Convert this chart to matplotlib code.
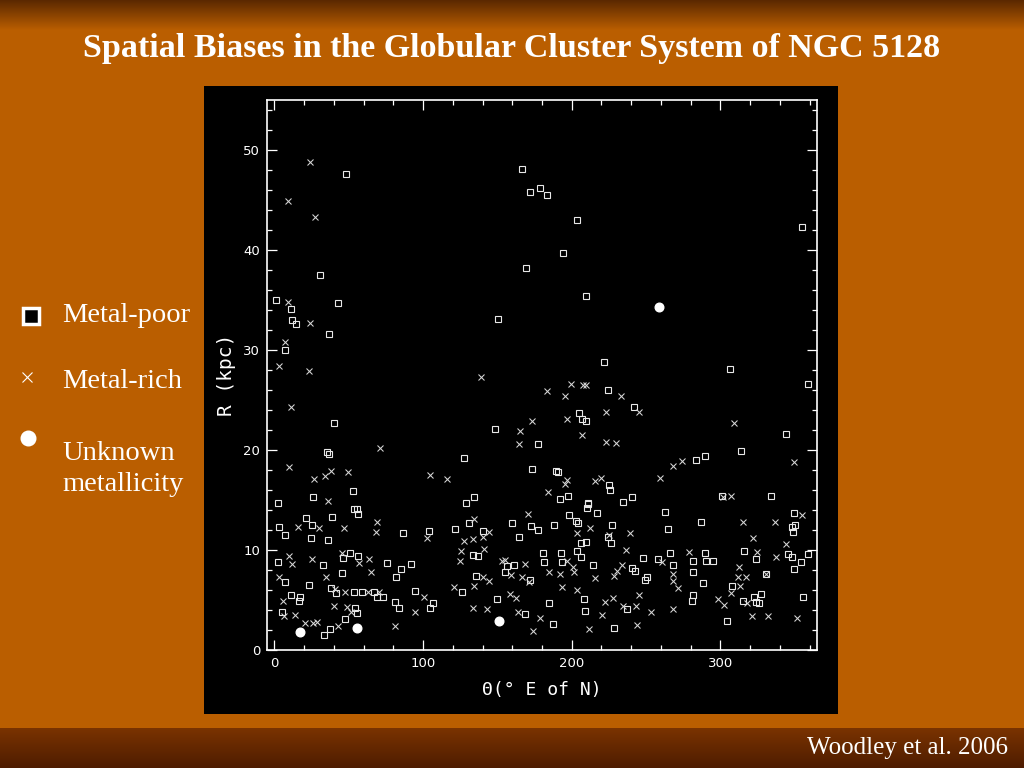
import numpy as np
import matplotlib
matplotlib.use("Agg")
import matplotlib.pyplot as plt
from matplotlib.ticker import MultipleLocator
from matplotlib.colors import LinearSegmentedColormap
from matplotlib.patches import Rectangle
from matplotlib.lines import Line2D

# ---------------- data ----------------
title = "Spatial Biases in the Globular Cluster System of NGC 5128"
x_label = "Θ(° E of N)"
y_label = "R (kpc)"
legend_labels = ["Metal-poor", "Metal-rich", "Unknown\nmetallicity"]
credit = "Woodley et al. 2006"

x_ticks = [0, 100, 200, 300]
y_ticks = [0, 10, 20, 30, 40, 50]

metal_poor_theta = [
    48.2, 30.5, 1.1, 42.8, 11.0, 11.9, 14.4, 36.8, 166.8, 172.2, 178.9, 169.5, 150.6, 183.6, 203.8, 194.4, 209.6, 355.1,
    7.4, 39.9, 35.4, 36.8, 52.7, 26.2, 2.5,
    221.9, 224.6, 241.9, 205.1, 207.1, 209.6, 148.2, 177.6, 127.4, 173.1, 189.5, 190.6, 225.1, 226.0, 192.1, 197.3,
    134.3, 128.7, 210.8, 234.7, 240.3,
    306.5, 359.1, 343.9, 313.6, 283.6, 289.8, 300.9, 333.8,
    53.4, 55.6, 56.3, 20.9, 39.0, 3.4, 25.4, 7.2, 24.7, 36.3, 86.5, 2.5, 32.8, 51.1, 46.0, 56.3, 76.0, 85.4, 45.5,
    81.6, 7.4, 23.1,
    130.9, 159.9, 172.4, 177.1, 104.2, 121.5, 140.1, 164.6, 133.6, 137.2, 156.3, 161.4, 92.1, 155.3, 172.0, 135.4,
    211.0, 210.5, 217.2, 198.0, 263.0, 187.9, 202.7, 204.2, 227.1, 264.8, 224.4, 226.6, 206.0, 209.8, 180.7, 193.0,
    203.4, 206.5, 181.4, 193.5, 248.0, 258.0, 265.9, 214.3, 268.3, 240.8, 242.4, 249.1, 250.8,
    349.7, 287.0, 348.2, 350.2, 348.6, 316.1, 323.9, 289.6, 281.8, 290.3, 295.2, 345.7, 348.2, 359.1, 354.4, 349.7,
    281.4, 330.7, 288.1,
    38.1, 41.5, 53.4, 59.0, 66.8, 69.1, 72.9, 11.2, 17.5, 16.4, 5.2, 54.5, 55.6, 81.4, 83.7, 94.8, 106.5, 104.9,
    47.7, 37.7, 33.6,
    126.0, 150.0, 184.7, 208.3, 209.1, 237.0, 168.6, 187.6, 228.2,
    308.0, 281.8, 280.9, 315.4, 322.8, 327.1, 324.0, 326.0, 355.5, 304.4,
]
metal_poor_R = [
    47.6, 37.5, 35.0, 34.7, 34.1, 33.0, 32.6, 31.6, 48.1, 45.8, 46.2, 38.2, 33.1, 45.5, 43.0, 39.7, 35.4, 42.3,
    30.0, 22.7, 19.8, 19.6, 15.9, 15.3, 14.7,
    28.8, 26.0, 24.3, 23.7, 23.1, 22.9, 22.1, 20.6, 19.2, 18.1, 17.9, 17.8, 16.5, 16.0, 15.1, 15.4,
    15.3, 14.7, 14.7, 14.8, 15.3,
    28.1, 26.6, 21.6, 19.9, 19.0, 19.4, 15.4, 15.4,
    14.1, 14.1, 13.6, 13.2, 13.3, 12.3, 12.5, 11.5, 11.2, 11.0, 11.7, 8.8, 8.5, 9.7, 9.2, 9.4, 8.7, 8.1, 7.7,
    7.3, 6.8, 6.5,
    12.7, 12.7, 12.4, 12.0, 11.9, 12.1, 11.9, 11.3, 9.5, 9.4, 8.4, 8.5, 8.6, 7.8, 7.0, 7.4,
    14.6, 14.2, 13.7, 13.5, 13.8, 12.5, 12.9, 12.7, 12.5, 12.1, 11.3, 10.7, 10.7, 10.8, 9.7, 9.7,
    9.9, 9.3, 8.8, 8.8, 9.2, 9.1, 9.7, 8.5, 8.5, 8.2, 7.9, 7.0, 7.3,
    13.7, 12.8, 12.3, 12.5, 11.8, 9.9, 9.1, 9.7, 8.9, 8.9, 8.9, 9.6, 9.3, 9.6, 8.8, 8.1,
    7.8, 7.6, 6.7,
    6.2, 5.7, 5.8, 5.8, 5.8, 5.3, 5.3, 5.5, 5.3, 4.9, 3.8, 4.2, 3.7, 4.8, 4.2, 5.9, 4.7, 4.2,
    3.1, 2.1, 1.5,
    5.8, 5.1, 4.7, 5.1, 3.9, 4.1, 3.6, 2.6, 2.2,
    6.4, 5.5, 4.9, 4.9, 5.3, 5.6, 4.8, 4.7, 5.3, 2.9,
]

metal_rich_theta = [
    23.8, 9.0, 27.6, 9.0, 23.8,
    7.0, 3.2, 23.3, 11.2, 71.3, 9.9, 37.9, 34.3, 26.7, 49.8, 104.5, 116.1, 36.1,
    139.2, 199.7, 207.4, 209.4, 183.2, 195.3, 233.4, 245.5, 223.3, 196.6, 173.5, 165.4, 164.8, 207.1, 223.3, 230.0,
    197.1, 195.5, 215.5, 219.5, 183.9,
    309.1, 349.3, 268.1, 274.2, 259.6, 306.9, 301.5,
    69.1, 68.6, 15.9, 29.8, 46.7, 9.7, 11.9, 25.6, 45.7, 56.7, 63.9, 65.2, 35.0, 3.0,
    170.8, 134.3, 102.5, 127.8, 133.4, 144.2, 140.6, 125.6, 141.0, 125.1, 152.9, 154.9, 168.8, 159.4, 166.4, 140.6,
    144.6,
    212.3, 203.6, 239.2, 225.4, 236.7, 197.0, 260.9, 200.9, 234.0, 184.5, 191.9, 201.5, 230.7, 228.5, 215.9, 268.1,
    268.1,
    354.7, 315.2, 336.9, 321.7, 343.9, 324.6, 279.1, 337.4, 312.7, 311.6, 317.2, 330.7,
    40.6, 47.7, 63.0, 70.6, 5.9, 6.7, 13.5, 39.9, 48.9, 51.8, 100.9, 94.4, 20.8, 25.8, 28.7, 42.8, 81.0,
    120.9, 134.3, 171.3, 193.3, 203.8, 158.5, 162.3, 222.4, 228.0, 234.7, 243.0, 245.3, 133.4, 142.8, 164.1, 178.9,
    173.8, 220.4, 211.8, 243.7,
    271.3, 313.2, 306.9, 298.6, 302.6, 317.7, 253.3, 268.3, 321.5, 332.2, 351.7,
]
metal_rich_R = [
    48.8, 44.9, 43.3, 34.8, 32.7,
    30.8, 28.4, 27.9, 24.3, 20.2, 18.3, 17.9, 17.4, 17.1, 17.8, 17.5, 17.1, 14.9,
    27.3, 26.6, 26.5, 26.5, 25.9, 25.4, 25.4, 23.8, 23.8, 23.1, 22.9, 21.9, 20.6, 21.5, 20.8, 20.7,
    17.0, 16.6, 16.9, 17.2, 15.8,
    22.7, 18.8, 18.4, 18.9, 17.2, 15.4, 15.3,
    12.8, 11.8, 12.3, 12.2, 12.2, 9.4, 8.6, 9.1, 9.7, 8.7, 9.1, 7.8, 7.3, 7.3,
    13.6, 13.1, 11.2, 10.9, 11.1, 11.8, 11.3, 9.9, 10.1, 8.9, 8.9, 9.0, 8.6, 7.5, 7.3, 7.3,
    6.9,
    12.2, 11.7, 11.7, 11.5, 10.0, 8.9, 8.8, 8.3, 8.5, 7.8, 7.6, 7.8, 7.9, 7.4, 7.2, 7.6,
    6.9,
    13.5, 12.8, 12.8, 11.2, 10.6, 9.8, 9.8, 9.3, 8.3, 7.3, 7.3, 7.6,
    6.1, 5.8, 5.8, 5.8, 4.9, 3.4, 3.5, 4.4, 4.3, 3.8, 5.3, 3.8, 2.7, 2.7, 2.8, 2.4, 2.4,
    6.3, 6.4, 6.8, 6.3, 6.0, 5.6, 5.2, 4.8, 5.2, 4.4, 4.4, 5.5, 4.2, 4.1, 3.8, 3.2,
    1.9, 3.5, 2.1, 2.5,
    6.2, 6.4, 5.7, 5.1, 4.5, 4.7, 3.8, 4.1, 3.4, 3.4, 3.2,
]

unknown_theta = [258.7, 17.5, 55.4, 151.1]
unknown_R = [34.3, 1.8, 2.2, 2.9]

# ---------------- figure ----------------
W, H = 1024, 768
fig = plt.figure(figsize=(W / 100, H / 100), dpi=100)
orange = "#BA5E00"
fig.patch.set_facecolor(orange)


def band(rect, c_top, c_bot):
    bax = fig.add_axes(rect)
    grad = np.linspace(0, 1, 256).reshape(-1, 1)
    cmap = LinearSegmentedColormap.from_list("band", [c_top, c_bot])
    bax.imshow(grad, aspect="auto", cmap=cmap, extent=[0, 1, 0, 1], origin="upper")
    bax.set_axis_off()


band([0, 1 - 30 / H, 1, 30 / H], "#5A2800", orange)
band([0, 0, 1, 40 / H], "#7A3300", "#4E1C00")

# black panel
fig.add_artist(Rectangle((204 / W, 1 - 714 / H), 634 / W, 628 / H,
                         transform=fig.transFigure, facecolor="black",
                         edgecolor="none", zorder=-1))

ax = fig.add_axes([267 / W, 1 - 650 / H, 550 / W, 550 / H])
ax.set_facecolor("black")
ax.set_xlim(-5, 365)
ax.set_ylim(0, 55)

ax.plot(metal_poor_theta, metal_poor_R, ls="none", marker="s", ms=4.4,
        mfc="none", mec="#e8e8e8", mew=0.8)
ax.plot(metal_rich_theta, metal_rich_R, ls="none", marker="x", ms=4.6,
        color="#d8d8d8", mew=0.75)
ax.plot(unknown_theta, unknown_R, ls="none", marker="o", ms=6.2,
        color="white", mec="white")

ax.set_xticks(x_ticks)
ax.set_yticks(y_ticks)
ax.xaxis.set_minor_locator(MultipleLocator(20))
ax.yaxis.set_minor_locator(MultipleLocator(2))
ax.tick_params(which="both", direction="in", top=True, right=True,
               colors="white", labelcolor="white", width=0.9)
ax.tick_params(which="major", length=7.2, labelsize=9.5, pad=5)
ax.tick_params(which="minor", length=3.6)
for lab in ax.get_xticklabels() + ax.get_yticklabels():
    lab.set_family("DejaVu Sans")
for sp in ax.spines.values():
    sp.set_color("white")
    sp.set_linewidth(1.2)

ax.set_xlabel(x_label, color="white", fontsize=13, family="DejaVu Sans Mono", labelpad=8)
ax.set_ylabel(y_label, color="white", fontsize=14, family="DejaVu Sans Mono", labelpad=5)

# title
fig.text(0.5, 1 - 49 / H, title, ha="center", va="center", fontsize=24.5,
         weight="bold", family="Liberation Serif", color="white")

# legend (left side)
tfont = dict(fontsize=20.5, family="Liberation Serif", color="white", va="center", ha="left")
fig.text(62 / W, 1 - 315 / H, legend_labels[0], **tfont)
fig.text(62 / W, 1 - 382 / H, legend_labels[1], **tfont)
fig.text(62 / W, 1 - 469 / H, legend_labels[2], linespacing=1.28, **tfont)

fig.add_artist(Line2D([31 / W], [1 - 316 / H], transform=fig.transFigure, marker="s",
                      ms=11, mfc="black", mec="white", mew=2.5, ls="none"))
fig.add_artist(Line2D([27 / W], [1 - 377 / H], transform=fig.transFigure, marker="x",
                      ms=7.5, color="white", mew=0.8, ls="none"))
fig.add_artist(Line2D([28 / W], [1 - 438 / H], transform=fig.transFigure, marker="o",
                      ms=10.5, color="white", ls="none"))

fig.text(1008 / W, 1 - 748 / H, credit, ha="right", va="center", fontsize=18,
         family="Liberation Serif", color="white")

fig.savefig("out.png", dpi=100, facecolor=fig.get_facecolor())
